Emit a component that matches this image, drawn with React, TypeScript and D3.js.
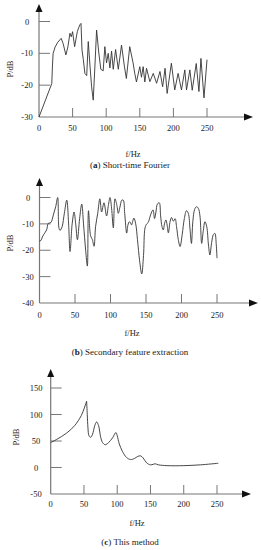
import React from "react";
import * as d3 from "d3";

// tick labels
const xTicks = [0, 50, 100, 150, 200, 250];
const yTicksA = [0, -10, -20, -30];
const yTicksB = [0, -10, -20, -30, -40];
const yTicksC = [150, 100, 50, 0, -50];

// (a) short-time Fourier
const freqA = [0, 19, 20, 21, 24, 28, 33, 36, 40, 43, 46, 48, 50, 53, 57, 59, 61, 62.5, 64, 66, 68.3, 71, 73.3, 75.8, 78.3, 80.7, 83.2, 85.7, 89, 92, 95.5, 98, 100.5, 103, 105.5, 108, 110.5, 114, 118, 122.8, 127, 130, 135, 140, 142.5, 145, 150, 152.5, 155, 157.5, 160, 165, 170, 175, 180, 184, 187.6, 190.7, 197, 202, 207, 212, 217, 219.5, 224.5, 228, 234, 238, 241, 245.5, 250];
const powA = [-30, -19.5, -14, -10, -8, -6.5, -5.3, -7, -10.5, -8, -3.7, -4.8, -3.2, -7.9, -3.2, -2, -1, -0.6, -9, -12, -16.3, -17, -6.3, -13.7, -20.5, -24.7, -14, -2.7, -9.9, -15, -15.5, -7.9, -13, -10, -14.6, -9.3, -15, -8.8, -15, -7.4, -14, -17.9, -7.9, -13, -16.3, -19, -14.2, -17.5, -14.2, -19, -14.7, -18.9, -16.3, -19.4, -15.7, -20.5, -14.7, -22.6, -13.1, -21.5, -16.3, -21.5, -15.2, -21.5, -15.2, -21.6, -13.2, -22, -11.6, -24, -12];

// (b) secondary feature extraction
const freqB = [0, 2, 4, 6, 10, 12.4, 16, 19.5, 22.8, 25.6, 27.5, 29, 30.3, 32, 35, 38.4, 41, 43, 46, 48.7, 51, 53.4, 56.5, 59.5, 62, 65, 67.4, 69, 72, 74.5, 76.8, 79, 82, 85, 87.5, 90.8, 94.5, 97, 99.3, 101.5, 104, 106.3, 109, 111, 113, 116, 118, 120, 122.8, 124.5, 126.5, 128, 129.6, 132.9, 135.5, 138, 141, 144, 146.5, 148.6, 151, 153, 156, 158, 160, 162, 164, 166, 168.7, 170.6, 172.5, 174.4, 176, 178, 179.8, 181.5, 184, 186, 188.5, 191, 193, 195.5, 198, 201, 204, 207, 209.6, 212, 214, 216, 218.5, 221, 223.7, 226, 228.4, 230.5, 233, 235.5, 238, 240, 242.5, 245, 247, 249, 250];
const powB = [-16.5, -16.3, -15, -14, -12.3, -9.8, -9.5, -6.6, -3.5, 0, -11.7, -12.5, -12, -11, -6, -1, -10, -20.5, -10, -5.5, -10, -16, -8, -2.5, -10, -20, -26, -5, -14.5, -16, -18.5, -11, -6, -0.5, -5.5, -2, -7, -3, 0, -4, -11.5, -0.5, -3, -6, -4, -1, -1, -6, -13.5, -10.5, -9.2, -9.5, -10.4, -7.8, -10, -16, -24, -29, -22, -11.6, -10, -9.5, -7, -5.5, -4.7, -8, -5.5, -2.5, -2, -7, -11, -12.3, -10, -8.5, -10.5, -13.4, -9, -7.6, -9, -8, -11, -16, -18.6, -14, -8, -5, -6, -12, -17.4, -9, -4.5, -3.5, -4.1, -7, -17.4, -13, -9.2, -11, -18, -21.8, -17, -14, -13.6, -18, -23];

// (c) this method: rising part up to the first peak, then the rest
const freqCRise = [0, 9, 24, 36, 46, 51, 54];
const powCRise = [47, 53, 65, 79, 98, 114, 125];
const freqCFall = [54, 55, 56, 57.5, 60, 63, 66, 69, 72, 75, 78, 82, 87, 93, 98, 100, 103, 108, 114, 120, 126, 131, 135, 139, 144, 150, 154, 157, 162, 175, 200, 225, 252];
const powCFall = [125, 100, 75, 60, 57, 63, 78, 86, 79, 58, 47, 43, 47, 56, 66, 60, 45, 30, 19, 15, 17, 21, 22, 18, 9, 5, 6, 7, 5, 3.5, 3.5, 5, 8];

const FONT = "'Liberation Serif', 'Times New Roman', serif";
const TXT = "#1a1a1a";

type Series = { f: number[]; p: number[] };

type PanelProps = {
  series: Series[];
  curve: d3.CurveFactory;
  yTicks: number[];
  yDomain: [number, number];
  yRange: [number, number];
  x0: number;
  x250: number;
  yTop: number;
  xEnd: number;
  yLabelX: number;
  yLabelY: number;
  tickLabelX: number;
  xLabelY: number;
  hzY: number;
  hzX: number;
  capY: number;
  capLetter: string;
  capText: string;
};

function Panel(props: PanelProps) {
  const x = d3.scaleLinear().domain([0, 250]).range([props.x0, props.x250]);
  const y = d3.scaleLinear().domain(props.yDomain).range(props.yRange);
  const yBase = props.yRange[0];

  const paths = props.series.map((s) => {
    const pts = s.f.map((f, i) => [x(f), y(s.p[i])] as [number, number]);
    return d3.line().curve(props.curve)(pts) || "";
  });

  const axisCol = "#777";
  return (
    <g fontFamily={FONT}>
      {/* y axis */}
      <line x1={props.x0} x2={props.x0} y1={props.yTop + 6} y2={yBase} stroke={axisCol} strokeWidth={1.2} />
      <path d={`M${props.x0},${props.yTop} l-3.5,8 h7 z`} fill="#111" />
      {/* x axis */}
      <line x1={props.x0} x2={props.xEnd - 6} y1={yBase} y2={yBase} stroke={axisCol} strokeWidth={1.2} />
      <path d={`M${props.xEnd},${yBase} l-9,-3.5 v7 z`} fill="#111" />
      {props.yTicks.map((t) => (
        <g key={"y" + t}>
          {y(t) < yBase - 1 && (
            <line x1={props.x0} x2={props.x0 + 11} y1={y(t)} y2={y(t)} stroke={axisCol} strokeWidth={1} />
          )}
          <text x={props.tickLabelX} y={y(t) + 3} fontSize={8.5} textAnchor="middle" fill={TXT}>
            {t}
          </text>
        </g>
      ))}
      {xTicks.map((t) => (
        <g key={"x" + t}>
          {t > 0 && (
            <line x1={x(t)} x2={x(t)} y1={yBase} y2={yBase - 9} stroke={axisCol} strokeWidth={1} />
          )}
          <text x={x(t)} y={props.xLabelY} fontSize={8.5} textAnchor="middle" fill={TXT}>
            {t}
          </text>
        </g>
      ))}
      {paths.map((d, i) => (
        <path key={i} d={d} fill="none" stroke="#333" strokeWidth={0.9} />
      ))}
      <text
        transform={`translate(${props.yLabelX},${props.yLabelY}) rotate(-90)`}
        fontSize={8.5}
        textAnchor="middle"
        fill={TXT}
      >
        P/dB
      </text>
      <text x={props.hzX} y={props.hzY} fontSize={8.5} textAnchor="middle" fill={TXT}>
        f/Hz
      </text>
      <text x={130} y={props.capY} fontSize={9} textAnchor="middle" fill={TXT}>
        (<tspan fontWeight="bold">{props.capLetter}</tspan>) {props.capText}
      </text>
    </g>
  );
}

export default function App() {
  return (
    <svg
      width={261}
      height={550}
      style={{ position: "absolute", left: 0, top: 0, background: "#fff" }}
    >
      <Panel
        series={[{ f: freqA, p: powA }]}
        curve={d3.curveLinear}
        yTicks={yTicksA}
        yDomain={[-30, 0]}
        yRange={[117, 21.5]}
        x0={39}
        x250={207}
        yTop={4}
        xEnd={253}
        yLabelX={13}
        yLabelY={69}
        tickLabelX={27}
        xLabelY={131}
        hzX={133}
        hzY={157}
        capY={168}
        capLetter="a"
        capText="Short-time Fourier"
      />
      <Panel
        series={[{ f: freqB, p: powB }]}
        curve={d3.curveCatmullRom.alpha(0.5)}
        yTicks={yTicksB}
        yDomain={[-40, 0]}
        yRange={[303, 197.5]}
        x0={39.5}
        x250={217}
        yTop={178}
        xEnd={258}
        yLabelX={13}
        yLabelY={243}
        tickLabelX={28}
        xLabelY={318}
        hzX={132}
        hzY={336}
        capY={355}
        capLetter="b"
        capText="Secondary feature extraction"
      />
      <Panel
        series={[
          { f: freqCRise, p: powCRise },
          { f: freqCFall, p: powCFall },
        ]}
        curve={d3.curveCatmullRom.alpha(0.5)}
        yTicks={yTicksC}
        yDomain={[-50, 150]}
        yRange={[494, 388]}
        x0={50.7}
        x250={217}
        yTop={369}
        xEnd={251}
        yLabelX={19}
        yLabelY={437}
        tickLabelX={36}
        xLabelY={507}
        hzX={137}
        hzY={526}
        capY={545}
        capLetter="c"
        capText="This method"
      />
    </svg>
  );
}
